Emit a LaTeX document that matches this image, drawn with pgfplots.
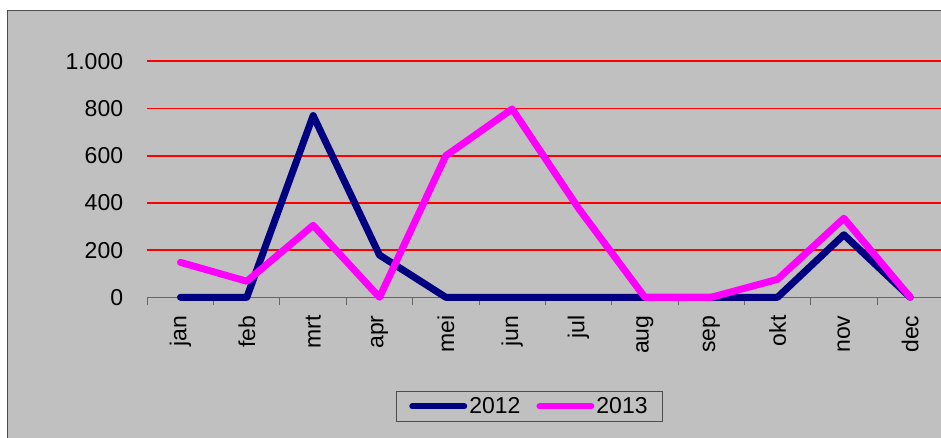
\documentclass[border=0pt]{standalone}
\usepackage{pgfplots}
\pgfplotsset{compat=1.18}
\usepackage{fontspec}
\setmainfont{Liberation Sans}
\definecolor{bg}{HTML}{C0C0C0}
\definecolor{navy12}{HTML}{000080}
\definecolor{mag13}{HTML}{FF00FF}
\begin{document}
\begin{tikzpicture}[x=1pt,y=1pt]
\useasboundingbox (0,0) rectangle (941,437);
\fill[white] (0,0) rectangle (941,437);
\filldraw[fill=bg, draw=black!70, line width=1pt] (7.3,-5) rectangle (950,426.5);
\begin{axis}[
  at={(147.3pt,139.7pt)}, anchor=south west,
  scale only axis, width=796.1pt, height=236pt,
  xmin=-0.5, xmax=11.5, ymin=0, ymax=1000,
  axis line style={draw=none},
  xtick={0,...,11},
  xticklabels={jan,feb,mrt,apr,mei,jun,jul,aug,sep,okt,nov,dec},
  minor xtick={-0.5,0.5,...,11.5},
  major tick length=0pt, minor tick length=8pt,
  tick align=outside, tick pos=left,
  minor x tick style={black!60, line width=1pt},
  ytick={200,400,...,1000},
  extra y ticks={0},
  extra y tick style={grid style={black!60, line width=1pt}},
  ymajorgrids, grid style={red, line width=1.6pt},
  /pgf/number format/assume math mode=true,
  /pgf/number format/1000 sep={.},
  ticklabel style={font=\fontsize{23}{27}\selectfont},
  yticklabel style={inner sep=0pt, anchor=east, xshift=-24pt},
  xticklabel style={inner sep=0pt, yshift=-18pt, rotate=90, anchor=east},
  legend style={at={(0.480,-0.462)}, anchor=center, draw=black!70, fill=bg,
    font=\fontsize{23}{27}\selectfont, inner xsep=13pt, inner ysep=4pt,
    /tikz/every even column/.append style={column sep=14pt}},
  legend columns=2,
  legend image code/.code={\draw[#1, line width=6pt, line cap=round] (0pt,0pt) -- (52pt,0pt);},
  clip=false,
]
\addplot[navy12, line width=7pt, line join=round, line cap=round] coordinates {
(0,0) (1,0) (2,770) (3,179) (4,0) (5,0) (6,0) (7,0) (8,0) (9,0) (10,265) (11,0)};
\addlegendentry{2012}
\addplot[mag13, line width=7pt, line join=round, line cap=round] coordinates {
(0,148) (1,68) (2,305) (3,0) (4,600) (5,798) (6,377) (7,0) (8,0) (9,76) (10,335) (11,0)};
\addlegendentry{2013}
\end{axis}
\end{tikzpicture}
\end{document}
